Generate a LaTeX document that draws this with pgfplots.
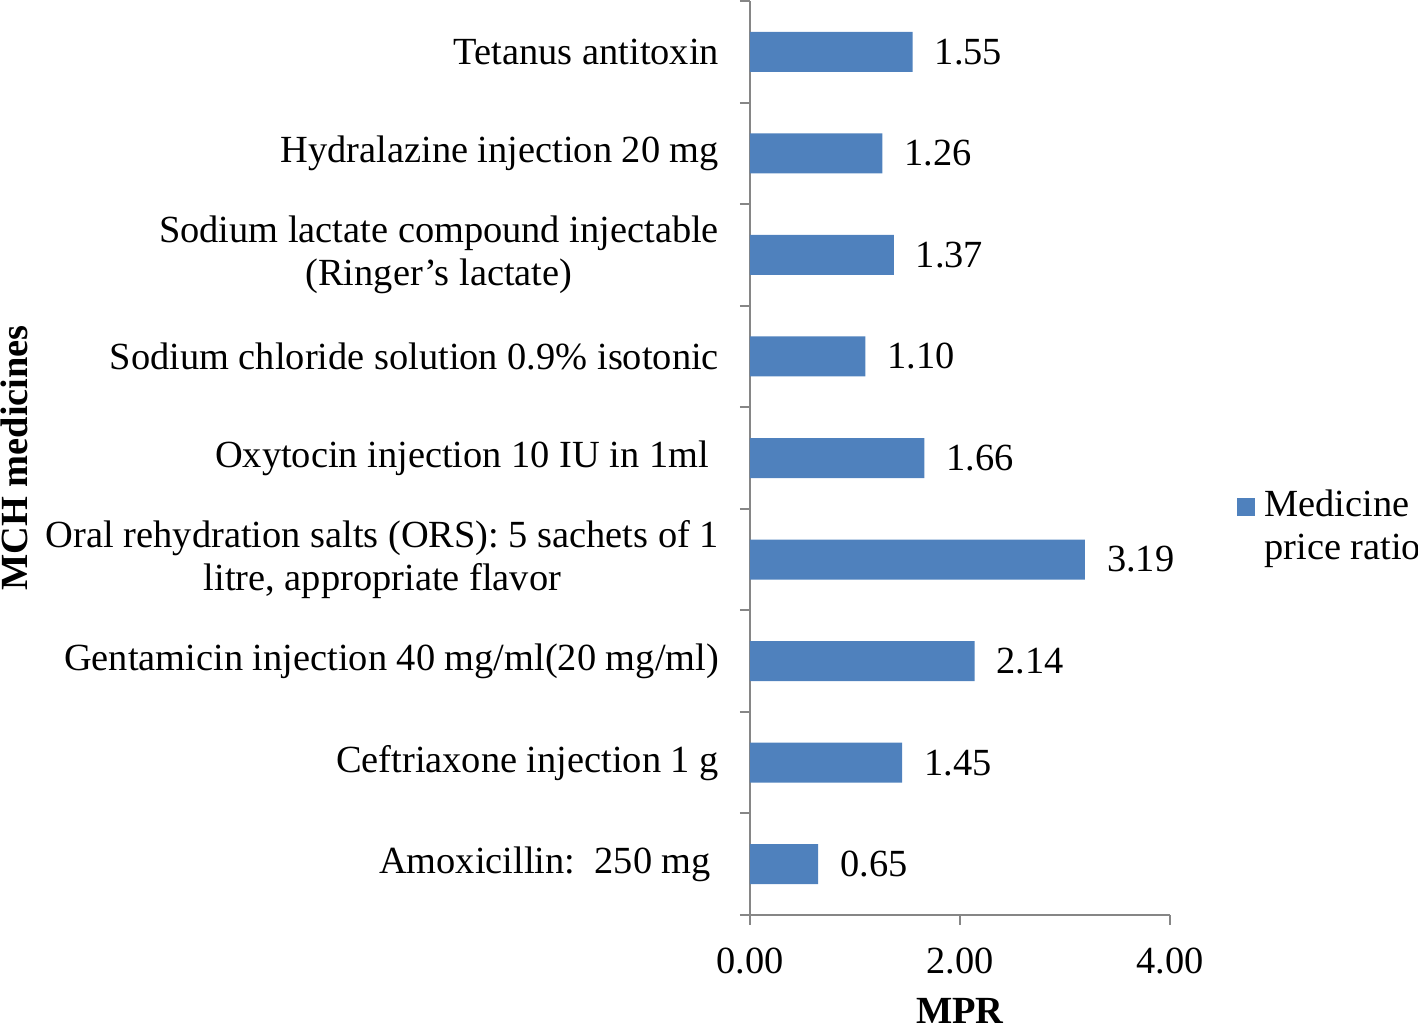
\documentclass[border=0pt]{standalone}
\usepackage{pgfplots}
\pgfplotsset{compat=1.18}
\usepackage{fontspec}
\setmainfont{Liberation Serif}
\definecolor{barblue}{HTML}{4F81BD}
\definecolor{axisgray}{HTML}{868686}

\begin{document}
\begin{tikzpicture}[font=\fontsize{19.2}{21.5}\selectfont]
\begin{axis}[
    name=ax,
    xbar,
    scale only axis,
    width=210pt, height=457pt,
    xmin=0, xmax=4,
    ymin=-0.5, ymax=8.5,
    xtick={0,2,4},
    xticklabels={0.00,2.00,4.00},
    xticklabel style={yshift=-8pt},
    ytick={-0.5,0.5,...,8.5},
    yticklabels={
        Amoxicillin:\ \ 250 mg\hspace*{4pt},
        Ceftriaxone injection 1 g,
        Gentamicin injection 40 mg/ml(20 mg/ml),
        {Oral rehydration salts (ORS): 5 sachets of 1\\litre, appropriate flavor},
        Oxytocin injection 10 IU in 1ml\hspace*{5pt},
        Sodium chloride solution 0.9\% isotonic,
        {Sodium lactate compound injectable\\(Ringer’s lactate)},
        Hydralazine injection 20 mg,
        Tetanus antitoxin},
    y tick label as interval,
    yticklabel style={align=center, anchor=east, xshift=-7pt},
    axis x line*=bottom,
    axis y line*=left,
    axis line style={axisgray, line width=1pt, -},
    tick style={axisgray, line width=1pt},
    major tick length=5pt,
    tick align=outside,
    bar width=20pt,
    /pgf/number format/assume math mode=true,
    point meta=x,
    nodes near coords={\pgfmathprintnumber[fixed,fixed zerofill,precision=2]{\pgfplotspointmeta}},
    nodes near coords style={anchor=west, xshift=7.5pt, text=black},
    xlabel={\textbf{MPR}},
    xlabel style={at={(axis description cs:0.5,0)}, anchor=base, yshift=-54.5pt},
    ylabel={\textbf{MCH medicines}},
    ylabel style={at={(axis description cs:-1.752,0.5)}, anchor=center, rotate=0},
    legend style={at={(axis description cs:1.1595,0.47)}, anchor=north west,
        draw=none, fill=none, inner sep=0pt, column sep=2.5pt, cells={align=left}},
    legend cell align=left,
    legend image code/.code={\fill[barblue] (0pt,5pt) rectangle (9pt,14pt);},
]
\addplot[fill=barblue, draw=none] coordinates {
    (0.65,0) (1.45,1) (2.14,2) (3.19,3) (1.66,4)
    (1.10,5) (1.37,6) (1.26,7) (1.55,8)};
\addlegendentry{Medicine\\price ratio}
\end{axis}
\pgfresetboundingbox
\path[use as bounding box] (ax.south west) ++(-375pt,-55.5pt) rectangle ++(709pt,513pt);
\end{tikzpicture}
\end{document}
